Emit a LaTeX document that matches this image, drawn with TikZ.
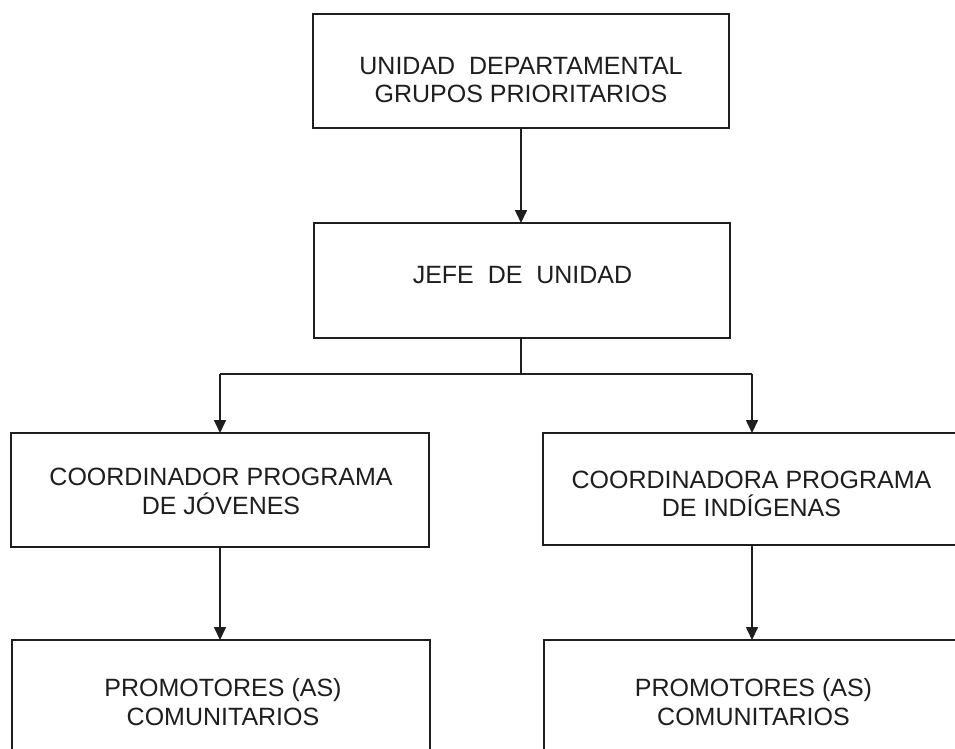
\documentclass[tikz,border=0pt]{standalone}
\usepackage{fontspec}
\setmainfont{Liberation Sans}
\usetikzlibrary{arrows.meta}
\definecolor{ink}{HTML}{1E1E1E}
\begin{document}
\begin{tikzpicture}[x=1pt,y=-1pt,
  box/.style={draw=ink, line width=1.6pt, inner sep=0pt, outer sep=0pt, rectangle},
  txt/.style={align=center, inner sep=0pt, text=ink, font=\fontsize{25}{28.5}\selectfont},
  conn/.style={draw=ink, line width=1.6pt},
  arr/.style={conn, -{Triangle[length=13pt,width=12pt]}}]
\clip (0,0) rectangle (955,748);
\fill[white] (0,0) rectangle (955,748);
% boxes
\node[box, minimum width=416pt, minimum height=114pt] (top) at (521,71) {};
\node[box, minimum width=416pt, minimum height=115pt] (jefe) at (522,280.5) {};
\node[box, minimum width=418pt, minimum height=114pt] (cl) at (220,490) {};
\node[box, minimum width=418pt, minimum height=112pt] (cr) at (752,489) {};
\node[box, minimum width=418pt, minimum height=124pt] (pl) at (221,702) {};
\node[box, minimum width=418pt, minimum height=124pt] (pr) at (753,702) {};
% texts
\node[txt] (topt) at (521,80) {UNIDAD\ \ DEPARTAMENTAL\\GRUPOS PRIORITARIOS};
\node[txt] (jefet) at (522.5,275.5) {JEFE\ \ DE\ \ UNIDAD};
\node[txt] (clt) at (221,491.5) {COORDINADOR PROGRAMA\\DE JÓVENES};
\node[txt] (crt) at (751.5,494) {COORDINADORA PROGRAMA\\DE INDÍGENAS};
\node[txt] (plt) at (223,702) {PROMOTORES (AS)\\COMUNITARIOS};
\node[txt] (prt) at (753.5,702) {PROMOTORES (AS)\\COMUNITARIOS};
% connectors
\coordinate (split) at (521,374);
\coordinate (hl) at (220,374);
\coordinate (hr) at (752,374);
\draw[arr] (top.south -| split) -- (jefe.north -| split);
\draw[conn] (jefe.south -| split) -- (split);
\draw[conn] (hl) -- (hr);
\draw[arr] (hl) -- (cl.north);
\draw[arr] (hr) -- (cr.north);
\draw[arr] (cl.south) -- (pl.north -| cl.south);
\draw[arr] (cr.south) -- (pr.north -| cr.south);
\end{tikzpicture}
\end{document}
